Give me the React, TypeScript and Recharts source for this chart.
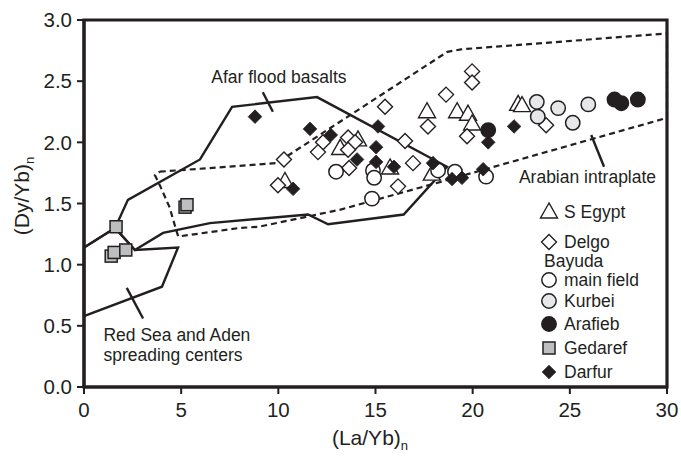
import React from 'react';
import { ScatterChart, Scatter, XAxis, YAxis, ReferenceArea } from 'recharts';

const FONT = '"Liberation Sans", Arial, Helvetica, sans-serif';
const INK = '#231f20';

const xTicks = [0, 5, 10, 15, 20, 25, 30];
const yTicks = [0, 0.5, 1, 1.5, 2, 2.5, 3];

// Field outlines
const afarField = [
  { x: 0, y: 1.14 }, { x: 1.6, y: 1.3 }, { x: 2.26, y: 1.53 }, { x: 5.97, y: 1.86 },
  { x: 7.62, y: 2.29 }, { x: 11.99, y: 2.37 }, { x: 18.68, y: 1.8 }, { x: 16.45, y: 1.41 },
  { x: 12.56, y: 1.33 }, { x: 11.53, y: 1.41 }, { x: 10.09, y: 1.39 }, { x: 6.48, y: 1.34 },
  { x: 4.07, y: 1.26 }, { x: 2.62, y: 1.12 }, { x: 1.6, y: 1.3 },
];
const redSeaField = [
  { x: 0, y: 0.58 }, { x: 4.01, y: 0.82 }, { x: 4.84, y: 1.14 }, { x: 2.62, y: 1.12 },
  { x: 1.6, y: 1.3 }, { x: 0, y: 1.14 }, { x: 0, y: 0.58 },
];
const arabianField = [
  { x: 3.9, y: 1.76 }, { x: 9.9, y: 1.83 }, { x: 18.7, y: 2.74 }, { x: 19.4, y: 2.76 },
  { x: 30, y: 2.89 }, { x: 30, y: 2.2 }, { x: 18.2, y: 1.67 }, { x: 13.2, y: 1.45 },
  { x: 9.0, y: 1.31 }, { x: 8.0, y: 1.3 }, { x: 4.85, y: 1.23 }, { x: 4.75, y: 1.28 },
  { x: 4.4, y: 1.47 }, { x: 3.9, y: 1.65 }, { x: 3.65, y: 1.73 }, { x: 3.9, y: 1.76 },
];
const afarTick = [{ x: 9.2, y: 2.41 }, { x: 9.72, y: 2.25 }];
const redSeaTick = [{ x: 2.2, y: 0.81 }, { x: 3.04, y: 0.56 }];
const arabianTick = [{ x: 26.1, y: 2.06 }, { x: 26.76, y: 1.8 }];

// Field labels
const fieldLabels = [
  { x: 6.55, y: 2.53, text: 'Afar flood basalts' },
  { x: 22.38, y: 1.72, text: 'Arabian intraplate' },
  { x: 1.0, y: 0.425, text: 'Red Sea and Aden' },
  { x: 1.0, y: 0.265, text: 'spreading centers' },
];

// Samples
const sEgypt = [
  { x: 17.65, y: 2.25 }, { x: 19.2, y: 2.25 }, { x: 19.76, y: 2.23 }, { x: 19.97, y: 2.15 },
  { x: 14.1, y: 2.02 }, { x: 13.18, y: 1.95 }, { x: 15.75, y: 1.79 }, { x: 17.9, y: 1.74 },
  { x: 22.34, y: 2.31 }, { x: 22.54, y: 2.3 }, { x: 10.34, y: 1.68 },
];
const delgo = [
  { x: 19.97, y: 2.58 }, { x: 19.97, y: 2.49 }, { x: 18.63, y: 2.39 }, { x: 15.49, y: 2.29 },
  { x: 17.7, y: 2.13 }, { x: 19.71, y: 2.05 }, { x: 16.52, y: 2.01 }, { x: 12.3, y: 2.0 },
  { x: 12.04, y: 1.92 }, { x: 13.59, y: 2.04 }, { x: 13.95, y: 2.0 }, { x: 13.59, y: 1.94 },
  { x: 13.64, y: 1.79 }, { x: 16.93, y: 1.83 }, { x: 16.16, y: 1.64 }, { x: 9.98, y: 1.65 },
  { x: 10.29, y: 1.86 }, { x: 23.78, y: 2.14 },
];
const mainField = [
  { x: 12.97, y: 1.76 }, { x: 14.87, y: 1.77 }, { x: 14.93, y: 1.71 }, { x: 14.82, y: 1.54 },
  { x: 18.22, y: 1.77 }, { x: 19.09, y: 1.76 }, { x: 20.69, y: 1.72 },
];
const kurbei = [
  { x: 23.3, y: 2.33 }, { x: 23.35, y: 2.21 }, { x: 24.4, y: 2.28 }, { x: 25.15, y: 2.16 },
  { x: 25.95, y: 2.31 },
];
const arafieb = [
  { x: 27.3, y: 2.35 }, { x: 27.65, y: 2.32 }, { x: 28.5, y: 2.35 }, { x: 20.8, y: 2.1 },
];
const gedaref = [
  { x: 1.65, y: 1.31 }, { x: 1.4, y: 1.07 }, { x: 1.55, y: 1.1 }, { x: 2.15, y: 1.12 },
  { x: 5.2, y: 1.47 }, { x: 5.3, y: 1.49 },
];
const darfur = [
  { x: 8.8, y: 2.21 }, { x: 11.63, y: 2.11 }, { x: 12.7, y: 2.06 }, { x: 15.13, y: 2.13 },
  { x: 14.05, y: 1.86 }, { x: 15.03, y: 1.96 }, { x: 15.03, y: 1.84 }, { x: 15.95, y: 1.8 },
  { x: 17.96, y: 1.83 }, { x: 10.76, y: 1.62 }, { x: 18.94, y: 1.7 }, { x: 19.45, y: 1.71 },
  { x: 20.54, y: 1.78 }, { x: 20.8, y: 2.0 }, { x: 22.13, y: 2.13 },
];

// Marker shapes
const Tri = ({ cx, cy }: any) => (
  <polygon points={`${cx},${cy - 9} ${cx - 8.5},${cy + 6} ${cx + 8.5},${cy + 6}`} fill="#fff" stroke={INK} strokeWidth={1.4} />
);
const OpenDiamond = ({ cx, cy }: any) => (
  <polygon points={`${cx},${cy - 7.5} ${cx + 7.5},${cy} ${cx},${cy + 7.5} ${cx - 7.5},${cy}`} fill="#fff" stroke={INK} strokeWidth={1.4} />
);
const BlackDiamond = ({ cx, cy }: any) => (
  <polygon points={`${cx},${cy - 6.8} ${cx + 6.8},${cy} ${cx},${cy + 6.8} ${cx - 6.8},${cy}`} fill={INK} stroke={INK} strokeWidth={0.8} />
);
const circ = (fill: string) => ({ cx, cy }: any) => (
  <circle cx={cx} cy={cy} r={7.2} fill={fill} stroke={INK} strokeWidth={1.5} />
);
const OpenCircle = circ('#fff');
const GrayCircle = circ('#e6e7e8');
const BlackCircle = circ(INK);
const Square = ({ cx, cy }: any) => (
  <rect x={cx - 6} y={cy - 6} width={12} height={12} fill="#bcbec0" stroke={INK} strokeWidth={1.5} />
);
const NoMark = () => <g />;
const LabelText = ({ cx, cy, payload }: any) => (
  <text x={cx} y={cy} dominantBaseline="central" fontFamily={FONT} fontSize={17.5} fill={INK}>{payload.text}</text>
);

const legendRows = [
  { y: 212, label: 'S Egypt', Mark: Tri },
  { y: 242, label: 'Delgo', Mark: OpenDiamond },
  { y: 261, label: 'Bayuda', Mark: null },
  { y: 280, label: 'main field', Mark: OpenCircle },
  { y: 301, label: 'Kurbei', Mark: GrayCircle },
  { y: 324, label: 'Arafieb', Mark: BlackCircle },
  { y: 348, label: 'Gedaref', Mark: Square },
  { y: 372, label: 'Darfur', Mark: BlackDiamond },
];

export default function App() {
  const solid = { stroke: INK, strokeWidth: 2.4, fill: 'none' };
  const dashed = { stroke: INK, strokeWidth: 2.2, strokeDasharray: '6 4', fill: 'none' };
  return (
    <div style={{ position: 'absolute', left: 0, top: 0, width: 681, height: 456, background: '#fff' }}>
      <ScatterChart width={681} height={456} margin={{ top: 20, right: 14, left: 0, bottom: 0 }}>
        <XAxis
          type="number" dataKey="x" domain={[0, 30]} ticks={xTicks} height={69}
          axisLine={{ stroke: INK, strokeWidth: 3 }} tickLine={{ stroke: INK, strokeWidth: 2 }}
          tickSize={7} tickMargin={8}
          tick={{ fill: INK, fontSize: 20.5, fontFamily: FONT }}
        />
        <YAxis
          type="number" dataKey="y" domain={[0, 3]} ticks={yTicks} width={84}
          axisLine={{ stroke: INK, strokeWidth: 3 }} tickLine={{ stroke: INK, strokeWidth: 2 }}
          tickSize={7} tickMargin={5}
          tickFormatter={(v: number) => v.toFixed(1)}
          tick={{ fill: INK, fontSize: 20.5, fontFamily: FONT }}
        />
        <Scatter data={arabianField} line={dashed} lineType="joint" shape={NoMark} isAnimationActive={false} />
        <Scatter data={afarField} line={solid} lineType="joint" shape={NoMark} isAnimationActive={false} />
        <Scatter data={redSeaField} line={solid} lineType="joint" shape={NoMark} isAnimationActive={false} />
        <Scatter data={afarTick} line={solid} lineType="joint" shape={NoMark} isAnimationActive={false} />
        <Scatter data={redSeaTick} line={solid} lineType="joint" shape={NoMark} isAnimationActive={false} />
        <Scatter data={arabianTick} line={solid} lineType="joint" shape={NoMark} isAnimationActive={false} />
        <Scatter data={fieldLabels} shape={LabelText} isAnimationActive={false} />
        <ReferenceArea x1={0} x2={30} y1={0} y2={3} fill="none" stroke={INK} strokeWidth={3.2} ifOverflow="visible" />
        <Scatter data={sEgypt} shape={Tri} isAnimationActive={false} />
        <Scatter data={delgo} shape={OpenDiamond} isAnimationActive={false} />
        <Scatter data={mainField} shape={OpenCircle} isAnimationActive={false} />
        <Scatter data={kurbei} shape={GrayCircle} isAnimationActive={false} />
        <Scatter data={arafieb} shape={BlackCircle} isAnimationActive={false} />
        <Scatter data={gedaref} shape={Square} isAnimationActive={false} />
        <Scatter data={darfur} shape={BlackDiamond} isAnimationActive={false} />
      </ScatterChart>
      <svg width={681} height={456} style={{ position: 'absolute', left: 0, top: 0, pointerEvents: 'none' }}>
        <text x={370} y={445} textAnchor="middle" fontFamily={FONT} fontSize={21} fill={INK}>
          (La/Yb)<tspan dy={5} fontSize={13}>n</tspan>
        </text>
        <text transform="translate(29,196) rotate(-90)" textAnchor="middle" fontFamily={FONT} fontSize={21} fill={INK}>
          (Dy/Yb)<tspan dy={5} fontSize={13}>n</tspan>
        </text>
        {legendRows.map((r) => (
          <g key={r.label}>
            {r.Mark ? <r.Mark cx={549} cy={r.y} /> : null}
            <text x={r.Mark ? 564 : 544} y={r.y} dominantBaseline="central" fontFamily={FONT} fontSize={17.5} fill={INK}>{r.label}</text>
          </g>
        ))}
      </svg>
    </div>
  );
}
